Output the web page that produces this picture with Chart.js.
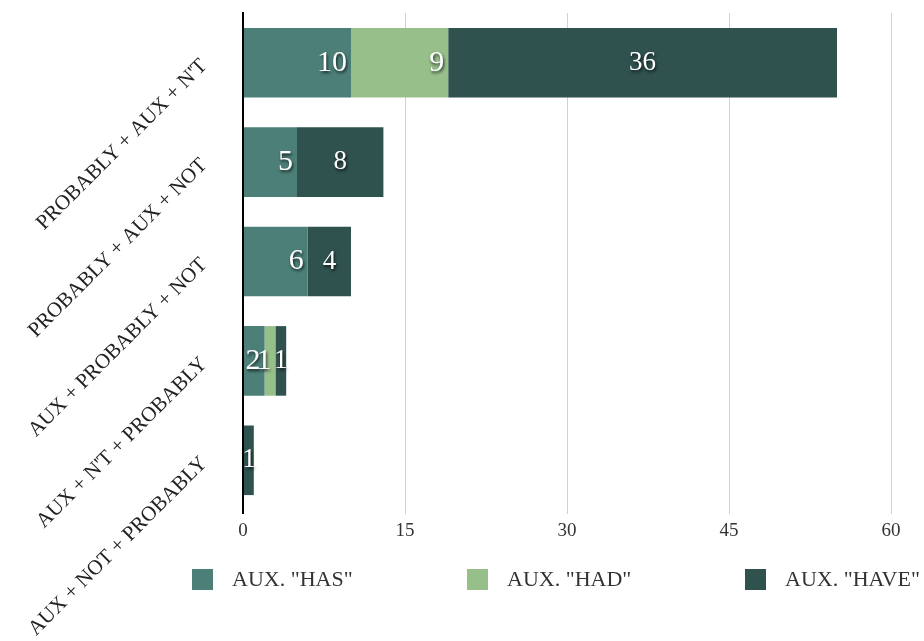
<!DOCTYPE html>
<html>
<head>
<meta charset="utf-8">
<style>
  body { margin: 0; background: #fff; }
  #wrap { position: relative; width: 924px; height: 641px; }
  #legend { position: absolute; left: 0; top: 566px; width: 924px; height: 24px;
            font-family: "Liberation Serif", serif; font-size: 22px; color: #333; }
  .item { position: absolute; top: 0; display: flex; align-items: center; white-space: nowrap; }
  .box { width: 21px; height: 21px; margin-right: 19px; }
</style>
</head>
<body>
<div id="wrap">
  <canvas id="chart" width="924" height="641"></canvas>
  <div id="legend"></div>
</div>

<script src="https://cdn.jsdelivr.net/npm/chart.js"></script>
<script>
// dados
const categorias = ["PROBABLY + AUX + N'T", "PROBABLY + AUX + NOT", "AUX + PROBABLY + NOT", "AUX + N'T + PROBABLY", "AUX + NOT + PROBABLY"];
const seriesNomes = ['AUX. "HAS"', 'AUX. "HAD"', 'AUX. "HAVE"'];
const hasValores = [10, 5, 6, 2, 0];
const hadValores = [9, 0, 0, 1, 0];
const haveValores = [36, 8, 4, 1, 1];
const xTicks = [0, 15, 30, 45, 60];

const cores = ['#4c7f78', '#96bf8a', '#2f524f'];
const fonte = '"Liberation Serif", serif';

// rótulos dentro das barras
const rotulosPlugin = {
  id: 'rotulos',
  afterDatasetsDraw(chart) {
    const ctx = chart.ctx;
    chart.data.datasets.forEach((ds, i) => {
      const meta = chart.getDatasetMeta(i);
      meta.data.forEach((bar, j) => {
        const v = ds.data[j];
        if (!v) return;
        ctx.save();
        ctx.fillStyle = '#fff';
        ctx.shadowColor = 'rgba(0,0,0,0.75)';
        ctx.shadowBlur = 3;
        ctx.shadowOffsetX = 1;
        ctx.shadowOffsetY = 2;
        ctx.textBaseline = 'middle';
        if (i < 2) {
          ctx.font = '30px ' + fonte;
          ctx.textAlign = 'right';
          ctx.fillText(v, bar.x - 4, bar.y);
        } else {
          ctx.font = '27px ' + fonte;
          ctx.textAlign = 'center';
          ctx.fillText(v, (bar.x + bar.base) / 2, bar.y);
        }
        ctx.restore();
      });
    });
  }
};

const ctx = document.getElementById('chart').getContext('2d');
const grafico = new Chart(ctx, {
  type: 'bar',
  data: {
    labels: categorias,
    datasets: [
      { label: seriesNomes[0], data: hasValores, backgroundColor: cores[0] },
      { label: seriesNomes[1], data: hadValores, backgroundColor: cores[1] },
      { label: seriesNomes[2], data: haveValores, backgroundColor: cores[2] }
    ]
  },
  options: {
    indexAxis: 'y',
    responsive: false,
    animation: false,
    barPercentage: 0.7,
    categoryPercentage: 1,
    layout: { padding: { left: 0, right: 33, top: 13, bottom: 91 } },
    plugins: {
      legend: { display: false },
      tooltip: { enabled: false }
    },
    scales: {
      x: {
        stacked: true,
        min: 0,
        max: 60,
        afterBuildTicks: axis => { axis.ticks = xTicks.map(v => ({ value: v })); },
        afterFit: s => { s.height = 40; },
        border: { display: false },
        grid: {
          color: c => (c.tick && c.tick.value === 0) ? '#000' : '#d0d0d0',
          lineWidth: c => (c.tick && c.tick.value === 0) ? 2 : 1,
          tickLength: 4
        },
        ticks: { font: { family: fonte, size: 19 }, color: '#333', padding: 6, maxRotation: 0 }
      },
      y: {
        stacked: true,
        afterFit: s => { s.width = 243; s.paddingTop = 0; s.paddingBottom = 0; },
        border: { display: true, color: '#000', width: 2 },
        grid: { display: false },
        ticks: { font: { family: fonte, size: 21 }, color: '#222', minRotation: 45, maxRotation: 45, padding: 31 }
      }
    }
  },
  plugins: [rotulosPlugin]
});

// legenda em HTML
const legendaX = [192, 467, 745];
const legenda = document.getElementById('legend');
grafico.data.datasets.forEach((ds, i) => {
  const item = document.createElement('div');
  item.className = 'item';
  item.style.left = legendaX[i] + 'px';
  item.innerHTML = '<span class="box" style="background:' + ds.backgroundColor + '"></span><span></span>';
  item.lastChild.textContent = ds.label;
  legenda.appendChild(item);
});
</script>
</body>
</html>
